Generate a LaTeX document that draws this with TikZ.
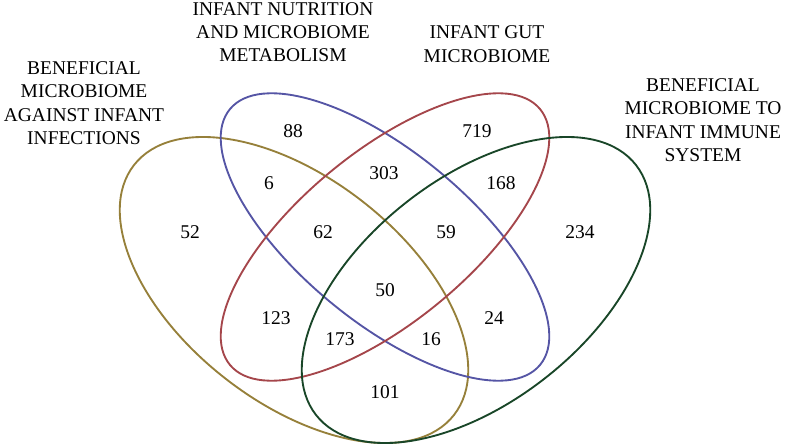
\documentclass[tikz,border=0pt]{standalone}
\usepackage{fontspec}
\setmainfont{Liberation Serif}
\definecolor{vgold}{RGB}{150,128,58}
\definecolor{vblue}{RGB}{85,85,165}
\definecolor{vred}{RGB}{165,70,75}
\definecolor{vgreen}{RGB}{25,70,40}
\tikzset{
  venn/.style={line width=1.4pt},
  title/.style={align=center, font=\fontsize{14.6}{17.5}\selectfont, inner sep=0pt},
  num/.style={font=\fontsize{14.6}{17.5}\selectfont, inner sep=0pt}
}
\begin{document}
\begin{tikzpicture}[x=0.75pt, y=-0.75pt]
\useasboundingbox (0,0) rectangle (787,445);
% ellipses
\draw[venn, vgold, rotate around={-38:(294,290)}] (294,290) ellipse [x radius=203, y radius=112];
\draw[venn, vblue, rotate around={-39.5:(385,237)}] (385,237) ellipse [x radius=201, y radius=85];
\draw[venn, vred, rotate around={39.5:(385,237)}] (385,237) ellipse [x radius=201, y radius=85];
\draw[venn, vgreen, rotate around={38:(476,290)}] (476,290) ellipse [x radius=203, y radius=112];
% titles
\node[title] (tgold) at (84,103) {BENEFICIAL\\MICROBIOME\\AGAINST INFANT\\INFECTIONS};
\node[title] (tblue) at (283,32) {INFANT NUTRITION\\AND MICROBIOME\\METABOLISM};
\node[title] (tred) at (487,44) {INFANT GUT\\MICROBIOME};
\node[title] (tgreen) at (703,120) {BENEFICIAL\\MICROBIOME TO\\INFANT IMMUNE\\SYSTEM};
% numbers
\node[num] (n88) at (293,131) {88};
\node[num] (n719) at (477,131) {719};
\node[num] (n6) at (269,183) {6};
\node[num] (n303) at (384,173) {303};
\node[num] (n168) at (501,183) {168};
\node[num] (n52) at (190,232) {52};
\node[num] (n62) at (323,232) {62};
\node[num] (n59) at (446,232) {59};
\node[num] (n234) at (580,232) {234};
\node[num] (n50) at (385,290) {50};
\node[num] (n123) at (276,318) {123};
\node[num] (n173) at (340,339) {173};
\node[num] (n16) at (431,339) {16};
\node[num] (n24) at (494,318) {24};
\node[num] (n101) at (385,392) {101};
\end{tikzpicture}
\end{document}
